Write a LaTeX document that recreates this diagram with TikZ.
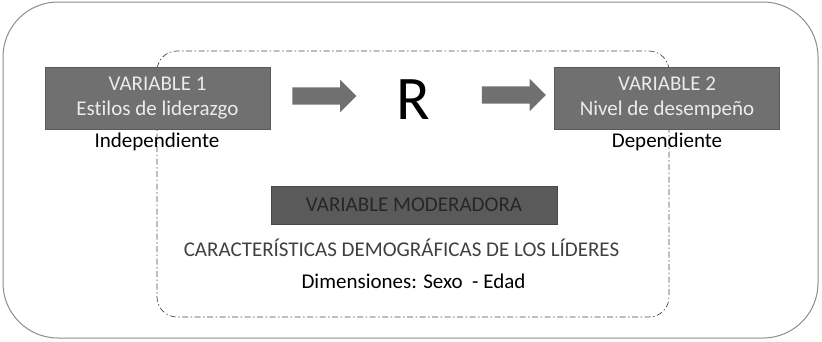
\documentclass[tikz,border=0pt]{standalone}
\usepackage{fontspec}
\setmainfont{Carlito}[Ligatures=NoCommon]
\usetikzlibrary{shapes.arrows}
\definecolor{boxgray}{HTML}{707070}
\definecolor{modgray}{HTML}{5A5A5A}
\definecolor{framegray}{HTML}{8C8C8C}
\definecolor{dashgray}{HTML}{4A4A4A}
\definecolor{captxt}{HTML}{404040}
\tikzset{
  varbox/.style={fill=boxgray, draw=boxgray!80!black, line width=0.4pt, text=white!92!black,
    minimum width=225pt, minimum height=62pt, inner sep=0pt, align=center,
    font=\fontsize{21}{25}\selectfont},
  modbox/.style={fill=modgray, draw=modgray!80!black, line width=0.4pt, text=black!85,
    minimum width=286pt, minimum height=38pt, inner sep=0pt,
    font=\fontsize{21}{25}\selectfont},
  lbl/.style={inner sep=0pt, font=\fontsize{21}{25}\selectfont},
  blockarrow/.style={shape=single arrow, fill=boxgray, draw=none, inner xsep=0pt, inner ysep=8.5pt,
    minimum height=64pt, single arrow head extend=7.5pt,
    single arrow tip angle=90}
}
\begin{document}
\begin{tikzpicture}[x=1pt,y=-1pt]
\useasboundingbox (0,0) rectangle (822,341);
% outer frame
\draw[framegray, line width=1pt, rounded corners=55pt] (3,2) rectangle (818,338);
% moderator dashed frame
\draw[dashgray, line width=0.7pt, dash pattern=on 6pt off 2.5pt on 1.5pt off 2.5pt, rounded corners=20pt]
  (157,51) rectangle (669,317);
% variable boxes
\node[varbox] (v1) at (157.5,98) {VARIABLE 1\\Estilos de liderazgo};
\node[varbox] (v2) at (667,98) {VARIABLE 2\\Nivel de desempeño};
\node[lbl] (ind) at (157,142) {Independiente};
\node[lbl] (dep) at (667,142) {Dependiente};
% R and arrows
\node[inner sep=0pt, font=\fontsize{62}{70}\selectfont] (r) at (413,100) {R};
\node[blockarrow] (a1) at (320,96) {};
\node[blockarrow] (a2) at (509.5,95) {};
% moderator
\node[modbox] (mod) at (414,205) {VARIABLE MODERADORA};
\node[lbl, text=captxt] (car) at (401.5,248) {CARACTERÍSTICAS DEMOGRÁFICAS DE LOS LÍDERES};
\node[lbl] (dim) at (413.5,281) {Dimensiones: Sexo\ \ - Edad};
\end{tikzpicture}
\end{document}
